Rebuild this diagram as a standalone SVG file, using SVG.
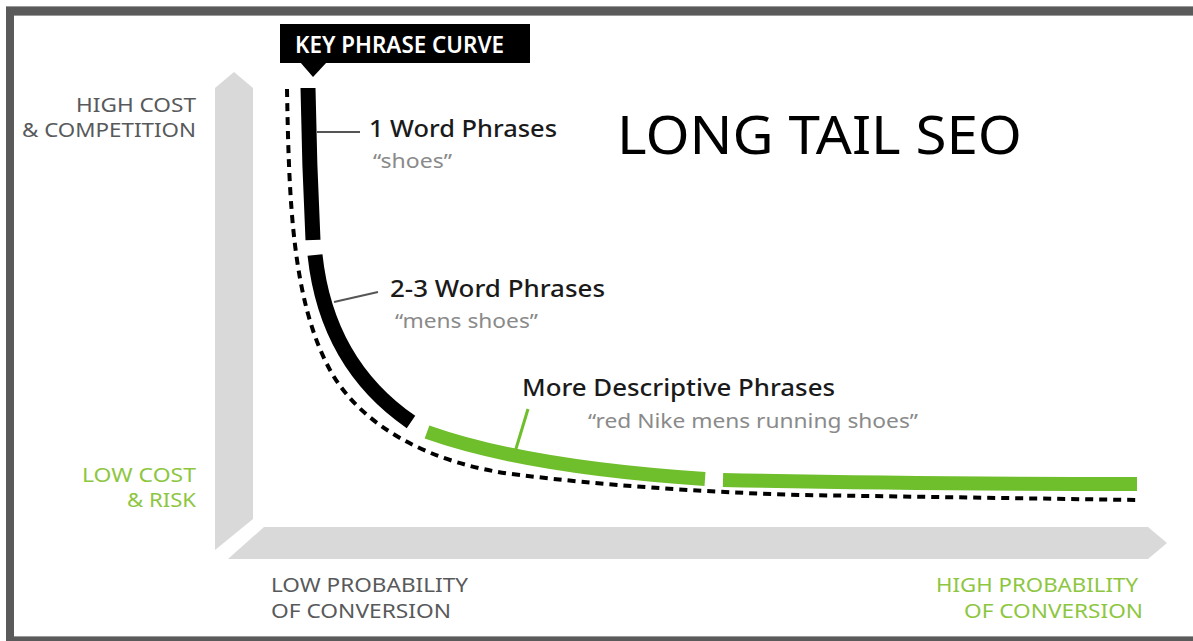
<svg xmlns="http://www.w3.org/2000/svg" width="1193" height="641" viewBox="0 0 1193 641">
<style>
  .t { font-family: "Noto Sans", "Open Sans", "Liberation Sans", sans-serif; }
  .cap { font-size: 20px; fill: #58595b; }
  .green { fill: #8dc63f; }
  .head { font-size: 24px; fill: #1a1a1a; font-weight: 500; }
  .quote { font-size: 20px; fill: #8a8a8a; }
  .axis { fill: #d9d9d9; }
  .seg { fill: none; stroke-linecap: butt; }
  .black { stroke: #000; stroke-width: 15; }
  .gbar { stroke: #6fbe2c; stroke-width: 14; }
  .lead { stroke: #555; stroke-width: 2; fill: none; }
</style>
<rect x="0" y="0" width="1193" height="641" fill="#fff"/>
<g id="frame">
  <rect x="6" y="6" width="1187" height="9" fill="#5a5a5a"/>
  <rect x="6" y="6" width="8" height="635" fill="#5a5a5a"/>
  <rect x="6" y="637" width="1187" height="4" fill="#5a5a5a"/>
  <line x1="6" y1="6.5" x2="1193" y2="6.5" stroke="#9a9a9a" stroke-width="1"/>
  <line x1="14" y1="15.5" x2="1193" y2="15.5" stroke="#9a9a9a" stroke-width="1"/>
  <line x1="14" y1="636.5" x2="1193" y2="636.5" stroke="#9a9a9a" stroke-width="1"/>
</g>
<g id="y-axis">
  <polygon class="axis" points="215,88 234,72 253,88 253,519 215,550"/>
</g>
<g id="x-axis">
  <polygon class="axis" points="264,527 1148,527 1167,543 1148,559 228,559"/>
</g>
<g id="connectors">
  <path d="M287,89 C289,200 292,300 330,370 C360,425 430,465 520,475 C600,485 700,492 800,495 L1137,500" fill="none" stroke="#000" stroke-width="4" stroke-dasharray="8 6"/>
  <path class="seg black" d="M308,88 C309,150 311,200 313,240"/>
  <path class="seg black" d="M315,255 C322,320 350,380 411,422"/>
  <path class="seg gbar" d="M427,432 C500,458 600,472 705,479"/>
  <path class="seg gbar" d="M723,480 Q900,484 1137,484"/>
  <line class="lead" x1="317" y1="132" x2="360" y2="132"/>
  <line class="lead" x1="334" y1="302" x2="378" y2="292"/>
  <line x1="528" y1="409" x2="515" y2="452" stroke="#6fbe2c" stroke-width="3"/>
</g>
<g id="key-phrase-curve">
  <rect x="280" y="24" width="250" height="39" fill="#000"/>
  <polygon points="300,62 327,62 313,77" fill="#000"/>
  <text class="t" x="295" y="53" font-size="23" font-weight="600" fill="#fff" textLength="209" lengthAdjust="spacingAndGlyphs">KEY PHRASE CURVE</text>
</g>
<g id="title">
  <text class="t" x="617" y="154" font-size="53" fill="#000" textLength="405" lengthAdjust="spacingAndGlyphs">LONG TAIL SEO</text>
</g>
<g id="high-cost">
  <text class="t cap" x="196" y="112" text-anchor="end" textLength="120" lengthAdjust="spacingAndGlyphs">HIGH COST</text>
  <text class="t cap" x="196" y="137" text-anchor="end" textLength="174" lengthAdjust="spacingAndGlyphs">&amp; COMPETITION</text>
</g>
<g id="low-cost">
  <text class="t cap green" x="196" y="482" text-anchor="end" textLength="114" lengthAdjust="spacingAndGlyphs">LOW COST</text>
  <text class="t cap green" x="196" y="507" text-anchor="end" textLength="69" lengthAdjust="spacingAndGlyphs">&amp; RISK</text>
</g>
<g id="low-probability">
  <text class="t cap" x="271" y="592" textLength="197" lengthAdjust="spacingAndGlyphs">LOW PROBABILITY</text>
  <text class="t cap" x="271" y="618" textLength="180" lengthAdjust="spacingAndGlyphs">OF CONVERSION</text>
</g>
<g id="high-probability">
  <text class="t cap green" x="1138" y="592" text-anchor="end" textLength="202" lengthAdjust="spacingAndGlyphs">HIGH PROBABILITY</text>
  <text class="t cap green" x="1143" y="618" text-anchor="end" textLength="179" lengthAdjust="spacingAndGlyphs">OF CONVERSION</text>
</g>
<g id="one-word">
  <text class="t head" x="369" y="137" textLength="188" lengthAdjust="spacingAndGlyphs">1 Word Phrases</text>
  <text class="t quote" x="373" y="168" textLength="79" lengthAdjust="spacingAndGlyphs">“shoes”</text>
</g>
<g id="two-three-word">
  <text class="t head" x="390" y="297" textLength="215" lengthAdjust="spacingAndGlyphs">2-3 Word Phrases</text>
  <text class="t quote" x="395" y="328" textLength="143" lengthAdjust="spacingAndGlyphs">“mens shoes”</text>
</g>
<g id="more-descriptive">
  <text class="t head" x="522" y="396" textLength="313" lengthAdjust="spacingAndGlyphs">More Descriptive Phrases</text>
  <text class="t quote" x="588" y="428" textLength="330" lengthAdjust="spacingAndGlyphs">“red Nike mens running shoes”</text>
</g>
</svg>
